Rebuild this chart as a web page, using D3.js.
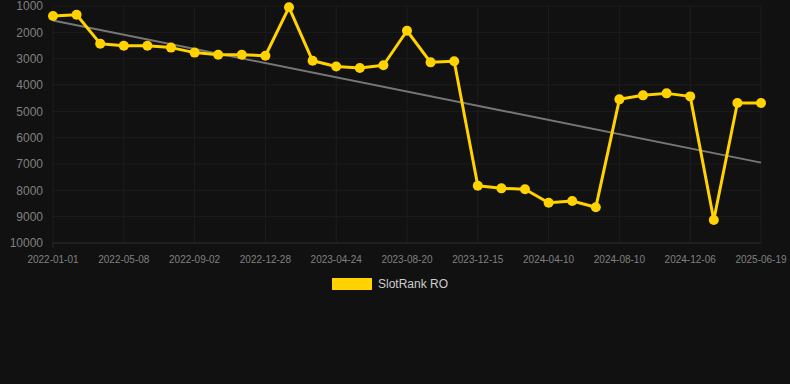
<!DOCTYPE html>
<html lang="en">
<head>
    <meta charset="UTF-8">
    <title>SlotRank RO</title>
    <style>
        body {
            margin: 0;
            background-color: #111111;
            font-family: Arial, "Liberation Sans", sans-serif;
        }

        .grid line {
            stroke: #1d1d1d;
            stroke-width: 1;
        }

        .tick-label {
            fill: #808080;
        }

        .rank-line {
            fill: none;
            stroke: #ffd200;
            stroke-width: 3;
            stroke-linejoin: round;
        }

        .rank-point {
            fill: #ffd200;
        }

        .trend-line {
            stroke: #777777;
            stroke-width: 2;
        }

        .legend-text {
            fill: #cccccc;
            font-size: 12px;
        }
    </style>
</head>
<body>
    <svg id="chart" width="790" height="384"></svg>

    <script src="https://d3js.org/d3.v7.min.js"></script>
    <script>
        // rank values, one per snapshot (31 points)
        const rankValues = [
            1380, 1330, 2430, 2510, 2510, 2580, 2770, 2850, 2850, 2890,
            1050, 3080, 3300, 3355, 3250, 1940, 3140, 3100, 7825, 7925,
            7960, 8470, 8405, 8645, 4545, 4393, 4318, 4432, 9128, 4684,
            4684
        ];
        // only every third category gets a label on the x axis
        const xTickLabels = [
            "2022-01-01", "2022-05-08", "2022-09-02", "2022-12-28",
            "2023-04-24", "2023-08-20", "2023-12-15", "2024-04-10",
            "2024-08-10", "2024-12-06", "2025-06-19"
        ];
        const yTicks = [1000, 2000, 3000, 4000, 5000, 6000, 7000, 8000, 9000, 10000];
        const seriesName = "SlotRank RO";

        const plotLeft = 53, plotRight = 761, plotTop = 6, plotBottom = 243;
        const svg = d3.select("#chart");

        const x = d3.scaleLinear()
            .domain([0, rankValues.length - 1])
            .range([plotLeft, plotRight]);

        // reversed: best rank on top
        const y = d3.scaleLinear()
            .domain([1000, 10000])
            .range([plotTop, plotBottom]);

        // grid
        const grid = svg.append("g").attr("class", "grid");
        yTicks.forEach(t => {
            grid.append("line")
                .attr("x1", plotLeft).attr("x2", plotRight)
                .attr("y1", y(t)).attr("y2", y(t));
        });
        xTickLabels.forEach((lbl, i) => {
            grid.append("line")
                .attr("x1", x(i * 3)).attr("x2", x(i * 3))
                .attr("y1", plotTop).attr("y2", plotBottom);
        });
        // bottom axis line a bit brighter, small tick at the start
        svg.append("line")
            .attr("x1", plotLeft).attr("x2", plotRight)
            .attr("y1", y(10000)).attr("y2", y(10000))
            .attr("stroke", "#282828");
        svg.append("line")
            .attr("x1", plotLeft).attr("x2", plotLeft)
            .attr("y1", plotBottom).attr("y2", plotBottom + 5)
            .attr("stroke", "#282828");

        // y labels
        svg.append("g").selectAll("text")
            .data(yTicks)
            .join("text")
            .attr("class", "tick-label")
            .attr("x", 43)
            .attr("y", d => y(d))
            .attr("dy", "0.35em")
            .attr("text-anchor", "end")
            .attr("font-size", 12)
            .text(d => d);

        // x labels
        svg.append("g").selectAll("text")
            .data(xTickLabels)
            .join("text")
            .attr("class", "tick-label")
            .attr("x", (d, i) => x(i * 3))
            .attr("y", 263)
            .attr("text-anchor", "middle")
            .attr("font-size", 10)
            .text(d => d);

        // linear trend (least squares)
        const n = rankValues.length;
        const meanX = d3.mean(rankValues, (d, i) => i);
        const meanY = d3.mean(rankValues);
        const slope = d3.sum(rankValues, (d, i) => (i - meanX) * (d - meanY)) /
            d3.sum(rankValues, (d, i) => (i - meanX) * (i - meanX));
        const intercept = meanY - slope * meanX;

        svg.append("line")
            .attr("class", "trend-line")
            .attr("x1", x(0)).attr("y1", y(intercept))
            .attr("x2", x(n - 1)).attr("y2", y(intercept + slope * (n - 1)));

        // series
        const line = d3.line()
            .x((d, i) => x(i))
            .y(d => y(d));

        svg.append("path")
            .datum(rankValues)
            .attr("class", "rank-line")
            .attr("d", line);

        svg.append("g").selectAll("circle")
            .data(rankValues)
            .join("circle")
            .attr("class", "rank-point")
            .attr("cx", (d, i) => x(i))
            .attr("cy", d => y(d))
            .attr("r", 5);

        // legend
        svg.append("rect")
            .attr("x", 332).attr("y", 278)
            .attr("width", 40).attr("height", 12)
            .attr("fill", "#ffd200");
        svg.append("text")
            .attr("class", "legend-text")
            .attr("x", 378).attr("y", 284)
            .attr("dy", "0.35em")
            .text(seriesName);
    </script>
</body>
</html>
